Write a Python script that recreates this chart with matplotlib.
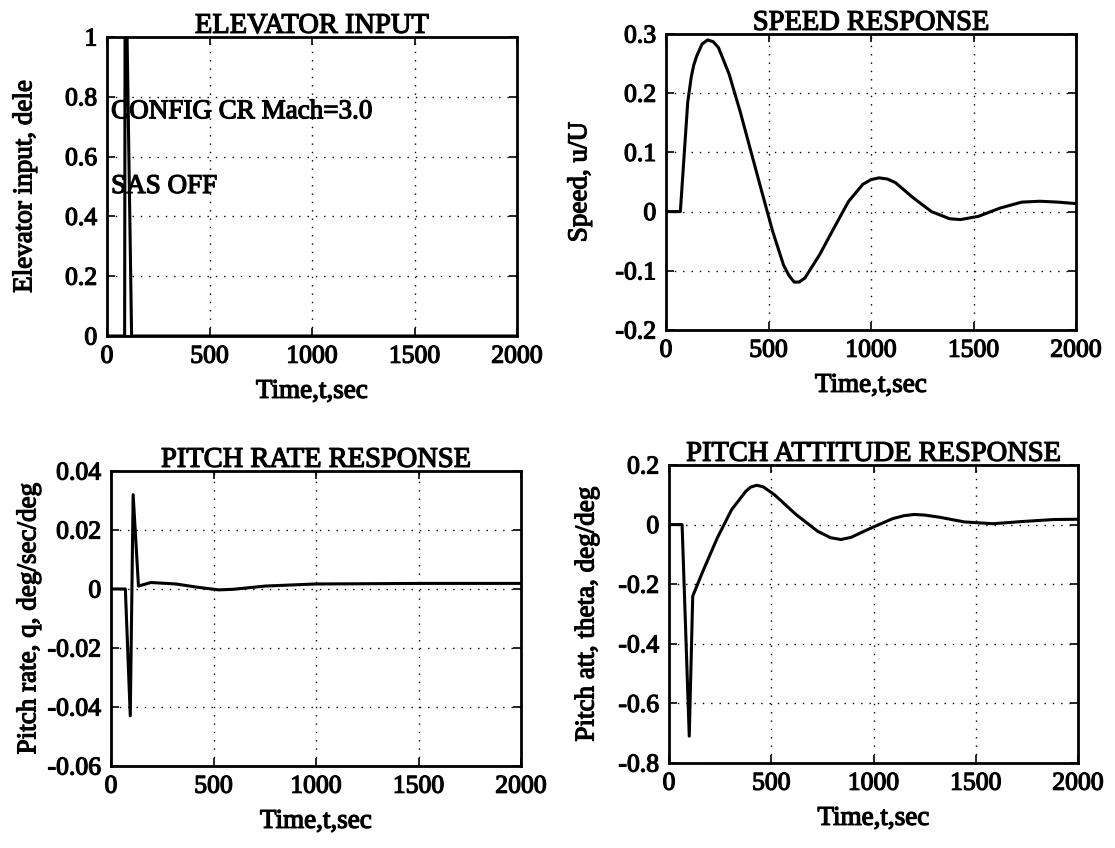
import matplotlib
matplotlib.use("Agg")
import matplotlib.pyplot as plt
import matplotlib.patheffects as pe

plt.rcParams['font.family'] = ['Liberation Serif', 'DejaVu Serif']

# ---------------- data ----------------
x_ticks = [0, 500, 1000, 1500, 2000]
x_ticklabels = ["0", "500", "1000", "1500", "2000"]

# Elevator input
t_elev = [0, 86, 88, 98, 120, 2000]
dele = [0, 0, 1, 1, 0, 0]
elev_yticks = [0, 0.2, 0.4, 0.6, 0.8, 1.0]
elev_yticklabels = ["0", "0.2", "0.4", "0.6", "0.8", "1"]

# Speed response
t_speed = [0, 70, 106, 115, 123, 135, 150, 176, 203, 230, 256, 308, 361, 414,
           467, 520, 573, 600, 625, 650, 678, 749, 819, 890, 960, 1000, 1039,
           1080, 1119, 1207, 1295, 1383, 1436, 1524, 1630, 1735, 1824, 1912, 2000]
speed = [0, 0, 0.185, 0.207, 0.227, 0.247, 0.263, 0.283, 0.290, 0.287, 0.277,
         0.232, 0.170, 0.102, 0.034, -0.033, -0.090, -0.108, -0.119, -0.119,
         -0.112, -0.073, -0.028, 0.017, 0.046, 0.054, 0.057, 0.055, 0.049,
         0.023, 0.0, -0.012, -0.0135, -0.008, 0.006, 0.016, 0.0175, 0.016, 0.0135]
speed_yticks = [-0.2, -0.1, 0, 0.1, 0.2, 0.3]
speed_yticklabels = ["-0.2", "-0.1", "0", "0.1", "0.2", "0.3"]

# Pitch rate response
t_q = [0, 70, 94, 108, 134, 195, 317, 422, 526, 596, 753, 997, 1537, 2000]
q = [0, 0, -0.043, 0.032, 0.001, 0.0022, 0.0017, 0.0006, -0.0003, -0.0001,
     0.001, 0.0017, 0.0019, 0.0019]
q_yticks = [-0.06, -0.04, -0.02, 0, 0.02, 0.04]
q_yticklabels = ["-0.06", "-0.04", "-0.02", "0", "0.02", "0.04"]

# Pitch attitude response
t_theta = [0, 64, 99, 116, 166, 236, 306, 376, 400, 429, 460, 516, 621, 726,
           790, 840, 890, 936, 1006, 1094, 1150, 1199, 1250, 1321, 1444, 1584,
           1742, 1882, 2000]
theta = [0, 0, -0.71, -0.24, -0.156, -0.045, 0.05, 0.112, 0.126, 0.132, 0.127,
         0.10, 0.034, -0.022, -0.044, -0.05, -0.043, -0.028, -0.006, 0.02,
         0.030, 0.034, 0.032, 0.025, 0.009, 0.003, 0.011, 0.017, 0.018]
theta_yticks = [-0.8, -0.6, -0.4, -0.2, 0, 0.2]
theta_yticklabels = ["-0.8", "-0.6", "-0.4", "-0.2", "0", "0.2"]

# ---------------- figure ----------------
W, H = 1115, 848
fig = plt.figure(figsize=(W / 100, H / 100), dpi=100)
fig.patch.set_facecolor("white")

heavy = [pe.withStroke(linewidth=0.9, foreground="black")]


def make_axes(left, right, top, bottom):
    return fig.add_axes([left / W, (H - bottom) / H, (right - left) / W, (bottom - top) / H])


def style(ax, title, ylabel, yticks, yticklabels, ylim, ylab_x):
    ax.set_xlim(0, 2000)
    ax.set_ylim(*ylim)
    ax.set_xticks(x_ticks)
    ax.set_xticklabels(x_ticklabels)
    ax.set_yticks(yticks)
    ax.set_yticklabels(yticklabels)
    ax.tick_params(direction="in", length=6, width=1.2, top=True, right=True,
                   labelsize=18.5, pad=7, colors="black")
    for lab in ax.get_xticklabels() + ax.get_yticklabels():
        lab.set_path_effects(heavy)
    ax.grid(True, color="black", linestyle=(0, (1, 5)), linewidth=1.0)
    for s in ax.spines.values():
        s.set_linewidth(2.0)
    ax.set_title(title, fontsize=20.5, pad=3, path_effects=heavy)
    ax.set_xlabel("Time,t,sec", fontsize=19.5, labelpad=8, path_effects=heavy)
    ax.set_ylabel(ylabel, fontsize=19.5, path_effects=heavy)
    ax.yaxis.set_label_coords(ylab_x, 0.5)


ax1 = make_axes(107, 517, 37, 336)
ax1.plot(t_elev, dele, color="black", linewidth=2.2)
style(ax1, "ELEVATOR INPUT", "Elevator input, dele", elev_yticks, elev_yticklabels,
      (0, 1), -0.17)
ax1.text(20, 0.75, "CONFIG CR Mach=3.0", fontsize=19.5, va="center", ha="left",
         path_effects=heavy)
ax1.text(20, 0.5, "SAS OFF", fontsize=19.5, va="center", ha="left", path_effects=heavy)

ax2 = make_axes(666, 1076, 34, 330)
ax2.plot(t_speed, speed, color="black", linewidth=2.2)
style(ax2, "SPEED RESPONSE", "Speed, u/U", speed_yticks, speed_yticklabels,
      (-0.2, 0.3), -0.18)

ax3 = make_axes(111, 521, 471, 766)
ax3.plot(t_q, q, color="black", linewidth=2.2)
style(ax3, "PITCH RATE RESPONSE", "Pitch rate, q, deg/sec/deg", q_yticks, q_yticklabels,
      (-0.06, 0.04), -0.17)

ax4 = make_axes(669, 1078, 465, 763)
ax4.plot(t_theta, theta, color="black", linewidth=2.2)
style(ax4, "PITCH ATTITUDE RESPONSE", "Pitch att, theta, deg/deg", theta_yticks,
      theta_yticklabels, (-0.8, 0.2), -0.17)

fig.savefig("out.png", dpi=100, facecolor="white")
